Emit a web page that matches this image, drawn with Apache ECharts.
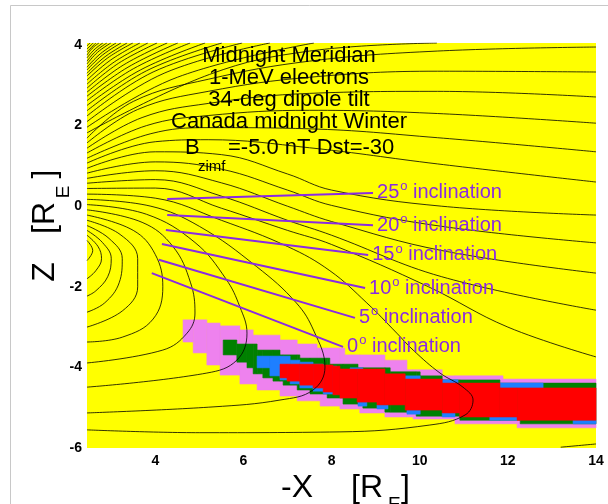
<!DOCTYPE html>
<html>
<head>
<meta charset="utf-8">
<script src="https://cdn.jsdelivr.net/npm/echarts@6/dist/echarts.min.js"></script>
<style>
  html, body { margin: 0; padding: 0; background: #fff; }
  #chart { width: 608px; height: 504px; }
</style>
</head>
<body>
<div id="chart"></div>
<script>
const xTicks = [4, 6, 8, 10, 12, 14];
const yTicks = [-6, -4, -2, 0, 2, 4];

// field lines, [-X, Z] in R_E
// high-latitude lines leaving through the top edge
const topLines = [
  [[2.45, 3.98], [2.52, 4.05]],
  [[2.45, 3.90], [2.59, 4.05]],
  [[2.45, 3.83], [2.65, 4.05]],
  [[2.45, 3.75], [2.57, 3.92], [2.72, 4.05]],
  [[2.45, 3.68], [2.61, 3.88], [2.81, 4.05]],
  [[2.45, 3.60], [2.65, 3.85], [2.90, 4.05]],
  [[2.45, 3.53], [2.69, 3.82], [2.99, 4.05]],
  [[2.45, 3.45], [2.75, 3.78], [3.11, 4.05]],
  [[2.45, 3.38], [2.80, 3.75], [3.22, 4.05]],
  [[2.45, 3.30], [2.86, 3.71], [3.36, 4.05]],
  [[2.45, 3.23], [2.92, 3.68], [3.49, 4.05]],
  [[2.45, 3.13], [2.99, 3.63], [3.65, 4.05]],
  [[2.45, 3.03], [3.07, 3.58], [3.83, 4.05]],
  [[2.45, 2.93], [3.17, 3.55], [4.04, 4.05]],
  [[2.45, 2.83], [3.27, 3.50], [4.27, 4.05]],
  [[2.45, 2.73], [3.38, 3.45], [4.51, 4.05]],
  [[2.45, 2.62], [3.50, 3.41], [4.79, 4.05]],
  [[2.45, 2.50], [3.66, 3.38], [5.13, 4.05]],
  [[2.45, 2.37], [3.80, 3.36], [5.51, 4.05]],
  [[2.45, 2.24], [3.95, 3.33], [5.97, 4.05]],
  [[2.45, 2.10], [4.20, 3.30], [6.60, 4.05]],
  [[2.45, 1.96], [4.50, 3.20], [7.60, 4.05]],
  [[2.45, 1.82], [5.23, 3.27], [7.50, 3.85], [10.39, 4.05]]
];
// lobe lines leaving through the right edge
const tailLines = [
  [[2.45, 1.69], [3.5, 2.6], [5.2, 3.15], [7.5, 3.6], [10.4, 3.85], [14, 3.95]],
  [[2.45, 1.57], [3.6, 2.4], [5.2, 2.85], [7.5, 3.2], [10.4, 3.35], [14, 3.33]],
  [[2.45, 1.44], [3.7, 2.2], [5.2, 2.55], [7.5, 2.8], [10.4, 2.85], [14, 2.71]],
  [[2.45, 1.32], [3.8, 2.0], [5.2, 2.25], [7.5, 2.38], [10.4, 2.3], [14, 2.06]],
  [[2.45, 1.19], [3.9, 1.8], [5.2, 1.95], [7.5, 1.92], [10.4, 1.7], [14, 1.35]],
  [[2.45, 1.07], [4.0, 1.6], [5.2, 1.65], [7.5, 1.45], [10.4, 1.05], [14, 0.60]],
  [[2.45, 0.94], [4.0, 1.35], [5.5, 1.28], [7.0, 0.8], [8.0, 0.4], [10.5, 0.0], [14, -0.22]],
  [[2.45, 0.82], [4.0, 1.1], [5.5, 0.92], [7.0, 0.4], [8.0, 0.02], [10.5, -0.5], [14, -0.91]],
  [[2.45, 0.69], [4.0, 0.88], [5.5, 0.58], [7.0, 0.0], [8.0, -0.38], [10.5, -1.1], [14, -1.66]],
  [[2.45, 0.57], [4.0, 0.66], [5.5, 0.25], [7.0, -0.35], [8.0, -0.72], [10.5, -1.75], [14, -2.58]],
  [[2.45, 0.44], [4.0, 0.45], [5.5, -0.05], [7.0, -0.6], [8.0, -0.95], [10.2, -2.0], [12, -3.0], [14, -3.74]]
];
// closed lines
const loopLines = [
  [[2.45, -0.85], [2.58, -1.1], [2.45, -1.35]],
  [[2.45, -0.72], [2.70, -1.0], [2.78, -1.3], [2.65, -1.6], [2.45, -1.8]],
  [[2.45, -0.60], [2.80, -0.9], [3.00, -1.3], [2.92, -1.75], [2.65, -2.1], [2.45, -2.23]],
  [[2.45, -0.48], [2.95, -0.8], [3.25, -1.3], [3.18, -1.9], [2.85, -2.4], [2.45, -2.63]],
  [[2.45, -0.35], [3.20, -0.7], [3.60, -1.3], [3.60, -2.0], [3.25, -2.6], [2.45, -3.00]],
  [[2.45, -0.22], [3.50, -0.6], [4.00, -1.2], [4.17, -2.0], [3.95, -2.8], [3.25, -3.25], [2.45, -3.37]],
  [[2.45, -0.09], [3.70, -0.4], [4.40, -1.0], [4.80, -1.9], [4.90, -2.65], [4.72, -3.15], [4.17, -3.57], [2.45, -3.89]],
  [[2.45, 0.04], [3.80, -0.2], [4.90, -0.9], [5.60, -1.8], [5.92, -2.5], [6.08, -3.15], [5.85, -3.82], [5.17, -4.14], [2.45, -4.49]],
  [[2.45, 0.17], [3.90, 0.0], [5.00, -0.5], [6.30, -1.5], [7.20, -2.4], [7.60, -3.1], [7.85, -3.99], [7.58, -4.56], [6.83, -4.81], [5.31, -4.98], [2.45, -5.13]],
  [[2.45, 0.30], [4.00, 0.2], [5.50, -0.35], [7.00, -1.0], [7.96, -1.6], [8.80, -2.4], [9.48, -3.15], [9.85, -3.57], [10.46, -4.14], [10.98, -4.49], [11.21, -4.81], [11.03, -5.18], [10.23, -5.43], [8.19, -5.60], [5.01, -5.62], [2.45, -5.55]],
  [[13.2, -5.98], [14.0, -5.90]]
];

// trapped-electron band, columns [x0, x1, zTop, zBottom]
const pinkCells = [
  [4.63, 4.86, -2.82, -3.37], [4.86, 5.17, -2.82, -3.64], [5.17, 5.47, -2.90, -3.94],
  [5.47, 5.92, -2.97, -4.19], [5.92, 6.22, -3.07, -4.41], [6.22, 6.31, -3.20, -4.41],
  [6.31, 6.83, -3.20, -4.56], [6.83, 7.22, -3.32, -4.71], [7.22, 7.67, -3.42, -4.83],
  [7.67, 7.74, -3.52, -4.83], [7.74, 8.19, -3.52, -4.96], [8.19, 8.30, -3.52, -5.03],
  [8.30, 8.64, -3.69, -5.03], [8.64, 9.21, -3.69, -5.13], [9.21, 9.71, -3.82, -5.23],
  [9.71, 9.85, -4.06, -5.23], [9.85, 10.51, -4.06, -5.28], [10.51, 10.80, -4.21, -5.28],
  [10.80, 11.89, -4.21, -5.40], [11.89, 12.21, -4.29, -5.40], [12.21, 14.0, -4.29, -5.50]
];
const greenCells = [
  [5.54, 5.85, -3.32, -3.69], [5.85, 6.08, -3.42, -3.87], [6.08, 6.22, -3.42, -4.01],
  [6.22, 6.31, -3.42, -4.16], [6.31, 6.44, -3.57, -4.16], [6.44, 6.67, -3.57, -4.26],
  [6.67, 6.83, -3.57, -4.34], [6.83, 6.90, -3.69, -4.34], [6.90, 7.22, -3.69, -4.44],
  [7.22, 7.28, -3.69, -4.56], [7.28, 7.51, -3.77, -4.56], [7.51, 7.90, -3.77, -4.66],
  [7.90, 7.96, -3.77, -4.76], [7.96, 8.26, -3.92, -4.76], [8.26, 8.60, -3.92, -4.91],
  [8.60, 8.71, -4.01, -4.91], [8.71, 9.21, -4.01, -5.01], [9.21, 9.33, -4.01, -5.11],
  [9.33, 9.92, -4.11, -5.11], [9.92, 10.01, -4.11, -5.21], [10.01, 10.51, -4.21, -5.21],
  [10.51, 10.91, -4.31, -5.21], [10.91, 11.82, -4.31, -5.31], [11.82, 12.28, -4.39, -5.31],
  [12.28, 14.0, -4.39, -5.40]
];
const blueCells = [
  [6.31, 6.60, -3.72, -4.01], [6.60, 6.83, -3.72, -4.21], [6.83, 7.06, -3.72, -4.31],
  [7.06, 7.28, -3.82, -4.41], [7.28, 7.58, -3.87, -4.51], [7.58, 7.81, -3.92, -4.59],
  [7.81, 8.12, -3.97, -4.66],
  [8.42, 8.71, -4.01, -4.11], [9.62, 10.01, -4.21, -4.29], [10.51, 10.87, -4.31, -4.39],
  [11.82, 12.80, -4.39, -4.51],
  [8.60, 8.80, -4.86, -4.96], [9.03, 9.28, -4.93, -5.03], [9.71, 10.01, -5.06, -5.16],
  [10.51, 10.80, -5.13, -5.23], [11.59, 12.21, -5.23, -5.31], [13.48, 14.0, -5.31, -5.40]
];
const redCells = [
  [6.83, 6.99, -3.92, -4.26], [6.99, 7.28, -3.92, -4.34], [7.28, 7.58, -3.92, -4.44],
  [7.58, 7.81, -3.92, -4.51], [7.81, 8.03, -3.94, -4.61], [8.03, 8.19, -3.97, -4.68],
  [8.19, 8.58, -4.04, -4.76], [8.58, 9.03, -4.04, -4.86], [9.03, 9.21, -4.04, -4.93],
  [9.21, 9.67, -4.16, -4.93], [9.67, 10.51, -4.29, -5.06], [10.51, 10.91, -4.39, -5.13],
  [10.91, 11.82, -4.39, -5.23], [11.82, 12.21, -4.51, -5.23], [12.21, 14.0, -4.51, -5.31]
];

// inclination traces
const inclNames = ['25', '20', '15', '10', '5', '0'];
const inclLines = [
  [[4.27, 0.18], [8.94, 0.33]],
  [[4.27, -0.22], [8.94, -0.47]],
  [[4.24, -0.59], [8.83, -1.21]],
  [[4.15, -0.94], [8.76, -2.03]],
  [[4.08, -1.33], [8.53, -2.77]],
  [[3.92, -1.66], [8.26, -3.49]]
];

const titleLines = ['Midnight Meridian', '1-MeV electrons', '34-deg dipole tilt', 'Canada midnight Winter'];

const chart = echarts.init(document.getElementById('chart'));
const purple = '#8a2be2';
const font = '"Liberation Sans", Arial, Helvetica, sans-serif';

function cellSeries(cells, color) {
  return {
    type: 'custom',
    silent: true,
    z: 3,
    renderItem: function (params, api) {
      const p0 = api.coord([api.value(0), api.value(2)]);
      const p1 = api.coord([api.value(1), api.value(3)]);
      return {
        type: 'rect',
        shape: { x: p0[0], y: p0[1], width: p1[0] - p0[0], height: p1[1] - p0[1] },
        style: { fill: color, stroke: color, lineWidth: 0.6 }
      };
    },
    encode: { x: [0, 1], y: [2, 3] },
    data: cells
  };
}

const series = [];
topLines.concat(tailLines, loopLines).forEach(function (line) {
  series.push({
    type: 'line',
    data: line,
    smooth: 0.4,
    showSymbol: false,
    silent: true,
    z: 5,
    lineStyle: { color: '#000', width: 0.8 }
  });
});
series.push(cellSeries(pinkCells, '#ee82ee'));
series.push(cellSeries(greenCells, '#008000'));
series.push(cellSeries(blueCells, '#1e7fff'));
series.push(cellSeries(redCells, '#ff0000'));
inclLines.forEach(function (line, i) {
  series.push({
    type: 'line',
    data: line,
    showSymbol: false,
    silent: true,
    z: 6,
    lineStyle: { color: purple, width: 2 },
    endLabel: {
      show: true,
      distance: 4,
      formatter: '{n|' + inclNames[i] + '}{s|o}{n| inclination}',
      rich: {
        n: { fontSize: 20, color: purple, fontFamily: font },
        s: { fontSize: 13, color: purple, fontFamily: font, padding: [0, 0, 12, 1] }
      }
    }
  });
});

const graphics = [
  { type: 'rect', shape: { x: 10.5, y: 5.5, width: 620, height: 520 }, style: { fill: 'none', stroke: '#c8c8c8', lineWidth: 1 }, z: -10 }
];
titleLines.forEach(function (t, i) {
  graphics.push({ type: 'text', x: 289, y: 56 + i * 22, z: 20,
    style: { text: t, font: '22px ' + font, fill: '#000', textAlign: 'center', textVerticalAlign: 'middle' } });
});
graphics.push({ type: 'text', x: 185, y: 148, z: 20, style: { text: 'B', font: '22px ' + font, fill: '#000', textVerticalAlign: 'middle' } });
graphics.push({ type: 'text', x: 198, y: 167, z: 20, style: { text: 'zimf', font: '15px ' + font, fill: '#000', textVerticalAlign: 'middle' } });
graphics.push({ type: 'text', x: 228, y: 148, z: 20, style: { text: '=-5.0 nT Dst=-30', font: '22px ' + font, fill: '#000', textVerticalAlign: 'middle' } });
// axis titles
graphics.push({ type: 'text', x: 281, y: 488, style: { text: '-X', font: '32px ' + font, fill: '#000', textVerticalAlign: 'middle' } });
graphics.push({ type: 'text', x: 351, y: 488, style: { text: '[R', font: '32px ' + font, fill: '#000', textVerticalAlign: 'middle' } });
graphics.push({ type: 'text', x: 388, y: 505, style: { text: 'E', font: '19px ' + font, fill: '#000', textVerticalAlign: 'middle' } });
graphics.push({ type: 'text', x: 401, y: 488, style: { text: ']', font: '32px ' + font, fill: '#000', textVerticalAlign: 'middle' } });
graphics.push({ type: 'text', x: 45, y: 272, rotation: Math.PI / 2, style: { text: 'Z', font: '32px ' + font, fill: '#000', textAlign: 'center', textVerticalAlign: 'middle' } });
graphics.push({ type: 'text', x: 45, y: 218, rotation: Math.PI / 2, style: { text: '[R', font: '32px ' + font, fill: '#000', textAlign: 'center', textVerticalAlign: 'middle' } });
graphics.push({ type: 'text', x: 64, y: 192, rotation: Math.PI / 2, style: { text: 'E', font: '19px ' + font, fill: '#000', textAlign: 'center', textVerticalAlign: 'middle' } });
graphics.push({ type: 'text', x: 45, y: 174, rotation: Math.PI / 2, style: { text: ']', font: '32px ' + font, fill: '#000', textAlign: 'center', textVerticalAlign: 'middle' } });

const option = {
  animation: false,
  backgroundColor: '#fff',
  grid: { left: 87, right: 12, top: 43, bottom: 56, show: true, backgroundColor: '#ffff00', borderWidth: 0 },
  xAxis: {
    type: 'value', min: 2.45, max: 14,
    axisLine: { show: false }, axisTick: { show: false }, splitLine: { show: false },
    axisLabel: { customValues: xTicks, color: '#000', fontSize: 14, fontWeight: 'bold', fontFamily: font, margin: 6 }
  },
  yAxis: {
    type: 'value', min: -6, max: 4.05,
    axisLine: { show: false }, axisTick: { show: false }, splitLine: { show: false },
    axisLabel: { customValues: yTicks, color: '#000', fontSize: 14, fontWeight: 'bold', fontFamily: font, margin: 5 }
  },
  graphic: graphics,
  series: series
};
chart.setOption(option);
</script>
</body>
</html>
